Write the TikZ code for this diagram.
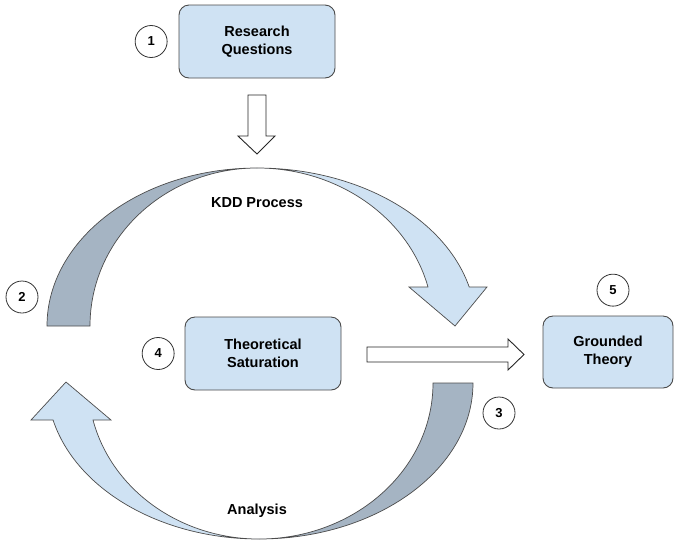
\documentclass[tikz,border=0pt]{standalone}
\usepackage{fontspec}
\setmainfont{Liberation Sans}
\usetikzlibrary{positioning,calc}
\definecolor{stageblue}{HTML}{CFE2F3}
\definecolor{backgrey}{HTML}{A5B4C3}
\definecolor{edgegrey}{HTML}{4A4A4A}

\begin{document}
\begin{tikzpicture}[x=1pt,y=-1pt,font=\fontsize{14.5}{18}\selectfont\bfseries,
    stage/.style={draw=edgegrey,line width=0.9pt,fill=stageblue,rounded corners=10pt,minimum width=156pt,minimum height=73pt,align=center,text=black},
    num/.style={circle,draw=black!80,line width=0.8pt,fill=white,minimum size=32pt,inner sep=0pt,font=\fontsize{13}{13}\selectfont\bfseries},
    ribbon/.style={draw=black!70,line width=0.7pt,line join=miter},
    hollow/.style={draw=black!85,line width=0.9pt,fill=white,line join=miter}]
  \useasboundingbox (0,0) rectangle (680,542);

  % boxes and step numbers
  \node[stage] (rq) at (257,41.5) {Research\\Questions};
  \node[num,left=11pt of rq] (n1) {1};
  \node[stage] (ts) at (263,353.5) {Theoretical\\Saturation};
  \node[num,left=10pt of ts] (n4) {4};
  \node[stage,minimum width=130pt,minimum height=72pt] (gt) at (608,352) {Grounded\\Theory};
  \node[num,above=9pt of gt,xshift=5pt] (n5) {5};
  \node[num] (n2) at (22,297) {2};
  \node[num] (n3) at (499,413) {3};

  % KDD loop: back side on the left, front side with head on the right
  \draw[ribbon,fill=stageblue] (257,168) arc[start angle=270,end angle=345.71,x radius=219,y radius=158]
    -- (487,287) -- (455,326) -- (409,287) -- (428,287)
    arc[start angle=345.71,end angle=270,x radius=176.5,y radius=158] -- cycle;
  \draw[ribbon,fill=backgrey] (47,326) arc[start angle=180,end angle=270,x radius=210,y radius=158]
    arc[start angle=270,end angle=180,x radius=167,y radius=158] -- cycle;
  \node (kdd) at (257,203) {KDD Process};

  % analysis loop back to the left
  \draw[ribbon,fill=backgrey] (473,383) arc[start angle=0,end angle=90,x radius=214,y radius=156]
    arc[start angle=90,end angle=0,x radius=174,y radius=156] -- cycle;
  \draw[ribbon,fill=stageblue] (259,539) arc[start angle=90,end angle=166.28,x radius=212,y radius=156]
    -- (31,420) -- (66,382) -- (111,420) -- (93,420)
    arc[start angle=166.28,end angle=90,x radius=171,y radius=156] -- cycle;
  \node (ana) at (257,511) {Analysis};

  % hollow block arrows
  \draw[hollow] (248,95) -- (266,95) -- (266,136) -- (275,136) -- (257,154) -- (238,136) -- (248,136) -- cycle;
  \draw[hollow] (367,347) -- (508,347) -- (508,339) -- (524,354.5) -- (508,370) -- (508,362) -- (367,362) -- cycle;
\end{tikzpicture}
\end{document}
